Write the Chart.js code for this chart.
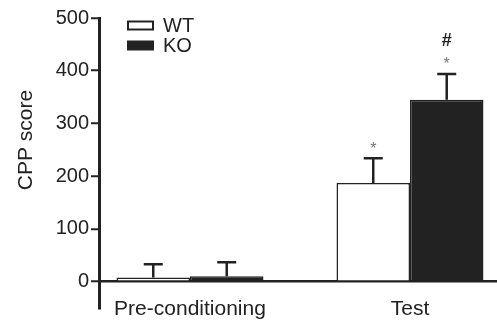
<!DOCTYPE html>
<html><head><meta charset="utf-8">
<script src="https://cdn.jsdelivr.net/npm/chart.js@4"></script>
<style>html,body{margin:0;padding:0;background:#fff}</style>
</head><body>
<canvas id="c" width="497" height="322"></canvas>
<script>
const categories = ['Pre-conditioning', 'Test'];
const seriesNames = ['WT', 'KO'];
const wtValues = [8, 187];
const koValues = [10, 345];
const wtErrors = [25, 47];
const koErrors = [27, 49];
const wtMarks = [[], ['*']];
const koMarks = [[], ['*', '#']];
const yTicks = [0, 100, 200, 300, 400, 500];
const yTitle = 'CPP score';

const FONT = "'Liberation Sans', Arial, Helvetica, sans-serif";
const INK = '#222';

const overlay = {
  id: 'overlay',
  afterDatasetsDraw(chart) {
    const ctx = chart.ctx, ys = chart.scales.y;
    const errs = [wtErrors, koErrors], marks = [wtMarks, koMarks];
    chart.data.datasets.forEach((ds, di) => {
      const meta = chart.getDatasetMeta(di);
      meta.data.forEach((bar, i) => {
        const v = ds.data[i].y;
        const top = ys.getPixelForValue(v + errs[di][i]);
        ctx.save();
        ctx.strokeStyle = INK; ctx.lineWidth = 2.5; ctx.lineCap = 'butt';
        ctx.beginPath();
        ctx.moveTo(bar.x, bar.y); ctx.lineTo(bar.x, top);
        ctx.moveTo(bar.x - 9.5, top); ctx.lineTo(bar.x + 9.5, top);
        ctx.stroke();
        ctx.textAlign = 'center'; ctx.textBaseline = 'middle';
        marks[di][i].forEach((m, k) => {
          if (m === '*') { ctx.fillStyle = '#777'; ctx.font = '16px ' + FONT; ctx.fillText(m, bar.x, top - 9 - k * 21); }
          else { ctx.fillStyle = INK; ctx.font = 'bold 18px ' + FONT; ctx.fillText(m, bar.x, top - 12 - k * 21); }
        });
        ctx.restore();
      });
    });
  },
  afterDraw(chart) {
    const ctx = chart.ctx, a = chart.chartArea;
    ctx.save();
    chart.data.datasets.forEach((ds, di) => {
      const x = a.left + 29, y = a.top + 3.5 + di * 20;
      ctx.fillStyle = ds.backgroundColor; ctx.strokeStyle = INK; ctx.lineWidth = 2;
      ctx.fillRect(x, y, 25, 8); ctx.strokeRect(x, y, 25, 8);
      ctx.fillStyle = INK; ctx.font = '20px ' + FONT;
      ctx.textAlign = 'left'; ctx.textBaseline = 'middle';
      ctx.fillText(ds.label, x + 35, y + 5);
    });
    // y axis title
    ctx.translate(26, a.top + 122);
    ctx.rotate(-Math.PI / 2);
    ctx.fillStyle = INK; ctx.font = '21px ' + FONT;
    ctx.textAlign = 'center'; ctx.textBaseline = 'middle';
    ctx.fillText(yTitle, 0, 0);
    ctx.restore();
  }
};

new Chart(document.getElementById('c'), {
  type: 'bar',
  data: {
    datasets: [
      { label: seriesNames[0], data: wtValues.map((v, i) => ({ x: i, y: v })), backgroundColor: '#ffffff', borderColor: INK, borderWidth: 1.5 },
      { label: seriesNames[1], data: koValues.map((v, i) => ({ x: i, y: v })), backgroundColor: INK, borderColor: INK, borderWidth: 1.5 }
    ]
  },
  options: {
    responsive: false, animation: false,
    categoryPercentage: 0.668, barPercentage: 1,
    layout: { padding: { top: 18, left: 0, right: 0, bottom: 0 } },
    plugins: { legend: { display: false }, tooltip: { enabled: false } },
    scales: {
      x: {
        type: 'linear', min: -0.4136, max: 1.3955, offset: false,
        afterBuildTicks: s => { s.ticks = categories.map((c, i) => ({ value: i })); },
        afterFit: s => { s.height = 14; },
        border: { display: false },
        grid: { display: false, drawTicks: false, offset: false },
        ticks: { callback: v => categories[v], font: { family: FONT, size: 21 }, color: INK, mirror: true, padding: -14, maxRotation: 0, autoSkip: false }
      },
      y: {
        min: -50, max: 500,
        afterBuildTicks: s => { s.ticks = yTicks.map(v => ({ value: v })); },
        afterFit: s => { s.width = 99; },
        border: { color: INK, width: 3 },
        grid: { drawOnChartArea: true, color: c => (c.tick && c.tick.value === 0) ? INK : 'rgba(0,0,0,0)', lineWidth: 2.5, tickColor: INK, tickLength: 8, tickWidth: 2 },
        ticks: { font: { family: FONT, size: 20 }, color: INK, padding: 2 }
      }
    }
  },
  plugins: [overlay]
});
</script>
</body></html>
